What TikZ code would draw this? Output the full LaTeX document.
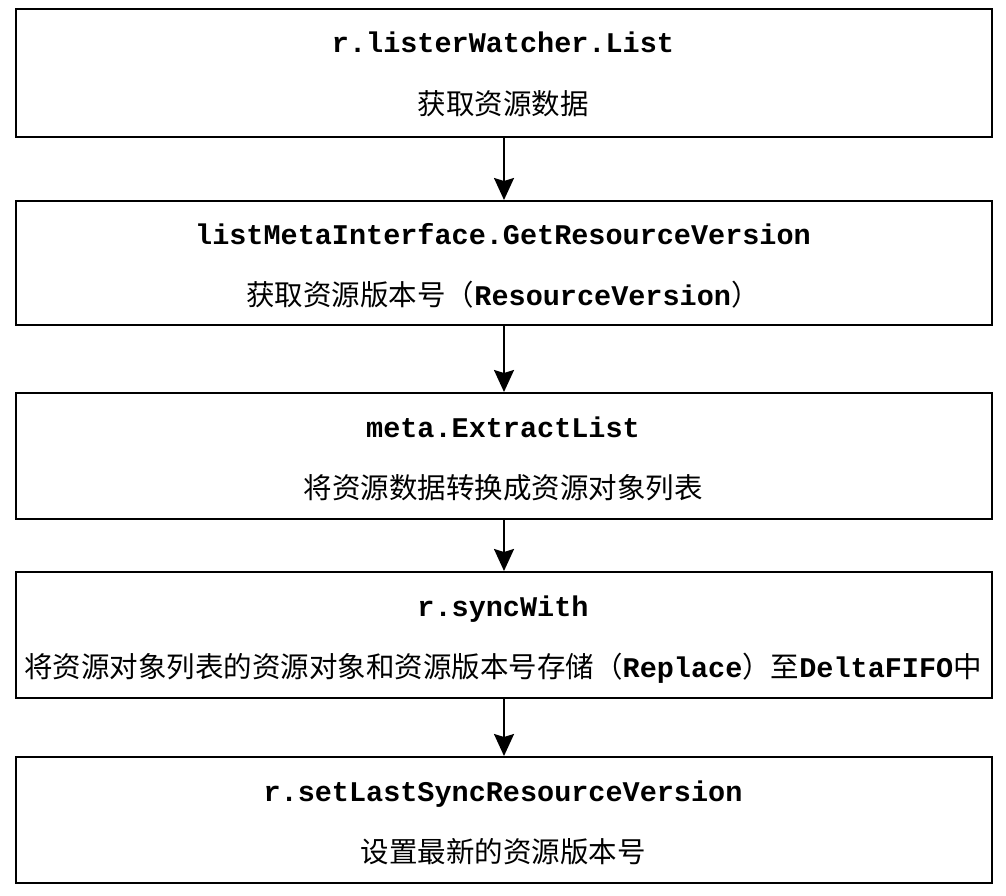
\documentclass[tikz,border=0pt]{standalone}
\usepackage{fontspec}
\setmonofont{Liberation Mono}
\newfontfamily\cjk{Noto Sans CJK SC}
\usetikzlibrary{arrows.meta}
\begin{document}
\begin{tikzpicture}[x=1pt,y=-1pt,
  box/.style={draw, line width=2pt, minimum width=976pt, inner sep=0pt, anchor=north west},
  code/.style={font=\fontsize{28.5}{28.5}\selectfont\ttfamily\bfseries, anchor=base, inner sep=0pt},
  zh/.style={font=\fontsize{28.5}{28.5}\selectfont\cjk, anchor=base, inner sep=0pt},
  flow/.style={draw, line width=2pt, -{Stealth[length=22pt,width=20pt,inset=3pt]}}]
\useasboundingbox (0,0) rectangle (1006,896);
\fill[white] (0,0) rectangle (1006,896);
\node[box, minimum height=128pt] (b1) at (15,8) {};
\node[box, minimum height=124pt] (b2) at (15,200) {};
\node[box, minimum height=126pt] (b3) at (15,392) {};
\node[box, minimum height=126pt] (b4) at (15,571) {};
\node[box, minimum height=126pt] (b5) at (15,756) {};
\node[code] (t1a) at (503,53) {r.listerWatcher.List};
\node[zh] (t1b) at (503,115) {获取资源数据};
\node[code] (t2a) at (503,244) {listMetaInterface.GetResourceVersion};
\node[zh] (t2b) at (503,305) {获取资源版本号（{\ttfamily\bfseries ResourceVersion}）};
\node[code] (t3a) at (503,437) {meta.ExtractList};
\node[zh] (t3b) at (503,498) {将资源数据转换成资源对象列表};
\node[code] (t4a) at (503,616) {r.syncWith};
\node[zh] (t4b) at (503,677) {将资源对象列表的资源对象和资源版本号存储（{\ttfamily\bfseries Replace}）至{\ttfamily\bfseries DeltaFIFO}中};
\node[code] (t5a) at (503,801) {r.setLastSyncResourceVersion};
\node[zh] (t5b) at (503,862) {设置最新的资源版本号};
\draw[flow] (b1.south) -- (b2.north);
\draw[flow] (b2.south) -- (b3.north);
\draw[flow] (b3.south) -- (b4.north);
\draw[flow] (b4.south) -- (b5.north);
\end{tikzpicture}
\end{document}
